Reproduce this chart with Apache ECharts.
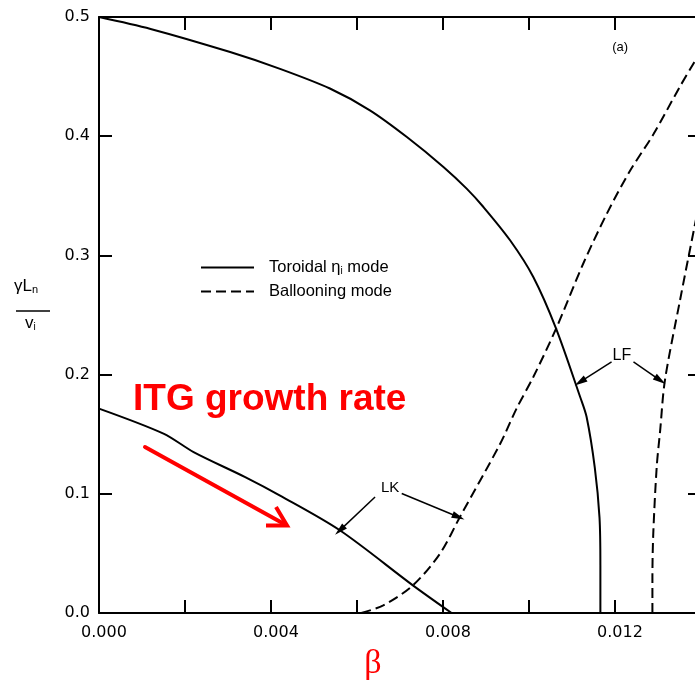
<!DOCTYPE html>
<html><head><meta charset="utf-8">
<script src="https://cdn.jsdelivr.net/npm/echarts@6/dist/echarts.min.js"></script>
<style>html,body{margin:0;padding:0;background:#fff}#c{width:695px;height:682px}</style>
</head><body><div id="c"></div>
<script>
// ---- data (beta, gamma*L_n/v_i) ----
const toroidalBeta  = [0, 0.0012, 0.00305, 0.00421, 0.00537, 0.0063, 0.00716, 0.00801, 0.00855, 0.00894, 0.00956, 0.0101, 0.01063, 0.01119, 0.01134, 0.01153, 0.01164, 0.01166, 0.01166];
const toroidalGamma = [0.5, 0.490, 0.4706, 0.4565, 0.440, 0.4217, 0.3993, 0.3742, 0.356, 0.3406, 0.3127, 0.2819, 0.2386, 0.1812, 0.1644, 0.122, 0.080, 0.040, 0.0];
const lkToroidalBeta  = [0, 0.0015, 0.0022, 0.0034, 0.0042, 0.0056, 0.0073, 0.0082];
const lkToroidalGamma = [0.1715, 0.1505, 0.135, 0.114, 0.0987, 0.0694, 0.0232, 0.0];
const ballooningBeta  = [0.0061, 0.00661, 0.0073, 0.00793, 0.0084, 0.00933, 0.00971, 0.0101, 0.01063, 0.01126, 0.01181, 0.01235, 0.0129, 0.0135, 0.01386, 0.014];
const ballooningGamma = [0.0, 0.0064, 0.0232, 0.0498, 0.081, 0.142, 0.1715, 0.198, 0.2386, 0.293, 0.335, 0.371, 0.402, 0.441, 0.463, 0.471];
const lfBallooningBeta  = [0.01287, 0.01287, 0.01289, 0.01297, 0.01305, 0.01316, 0.01351, 0.01386, 0.014];
const lfBallooningGamma = [0.0, 0.03, 0.0666, 0.1225, 0.153, 0.195, 0.262, 0.326, 0.35];
const xTickStep = 0.002;
const yTicks = [0.0, 0.1, 0.2, 0.3, 0.4, 0.5];
const legendNames = ['Toroidal mode', 'Ballooning mode'];

const zip = (a, b) => a.map((v, i) => [v, b[i]]);

const chart = echarts.init(document.getElementById('c'), null, {renderer: 'canvas'});
const black = '#000';
const axisBase = {
  axisLine: {show: true, onZero: false, lineStyle: {color: black, width: 2}},
  axisTick: {show: true, inside: true, length: 13, lineStyle: {color: black, width: 2}},
  splitLine: {show: false}
};
const tickFont = {fontFamily: 'DejaVu Sans', fontSize: 16, color: black};

const option = {
  animation: false,
  backgroundColor: '#fff',
  grid: {left: 99, width: 602, top: 17, bottom: 69, outerBoundsMode: 'none', containLabel: false},
  xAxis: [
    Object.assign({type: 'value', min: 0, max: 0.014, interval: xTickStep, position: 'bottom',
      axisLabel: Object.assign({margin: 12, padding: [0, 0, 0, 10],
        formatter: v => { const k = Math.round(v / xTickStep); return k % 2 === 0 ? (k * xTickStep).toFixed(3) : ''; }}, tickFont)}, axisBase),
    Object.assign({type: 'value', min: 0, max: 0.014, interval: xTickStep, position: 'top', axisLabel: {show: false}}, axisBase)
  ],
  yAxis: [
    Object.assign({type: 'value', min: yTicks[0], max: yTicks[yTicks.length - 1], interval: 0.1, position: 'left',
      axisLabel: Object.assign({margin: 9, formatter: v => v.toFixed(1)}, tickFont)}, axisBase),
    Object.assign({type: 'value', min: yTicks[0], max: yTicks[yTicks.length - 1], interval: 0.1, position: 'right', axisLabel: {show: false}}, axisBase)
  ],
  legend: {
    show: true, orient: 'vertical', left: 195, top: 254, itemWidth: 53, itemHeight: 14, itemGap: 7,
    data: legendNames, selectedMode: false,
    itemStyle: {opacity: 0},
    formatter: n => n === legendNames[0] ? 'Toroidal η{s|i} mode' : n,
    textStyle: {fontFamily: 'Liberation Sans', fontSize: 16.5, color: black, padding: [0, 0, 0, 10],
      rich: {s: {fontFamily: 'Liberation Sans', fontSize: 10, verticalAlign: 'bottom', lineHeight: 11}}}
  },
  series: [
    {type: 'line', name: legendNames[0], data: zip(toroidalBeta, toroidalGamma), symbol: 'none', smooth: 0.3,
      lineStyle: {color: black, width: 2, type: 'solid'}, itemStyle: {color: black}},
    {type: 'line', name: legendNames[0], data: zip(lkToroidalBeta, lkToroidalGamma), symbol: 'none', smooth: 0.3,
      lineStyle: {color: black, width: 2, type: 'solid'}, itemStyle: {color: black},
      markLine: {silent: true, symbol: ['none', 'triangle'], symbolSize: [7, 13], label: {show: false},
        lineStyle: {color: black, width: 1.5, type: 'solid'},
        data: [
          [{coord: [0.00642, 0.0973]}, {coord: [0.0056, 0.0693]}],
          [{coord: [0.00704, 0.1002]}, {coord: [0.00836, 0.0805]}],
          [{coord: [0.01192, 0.2106]}, {coord: [0.01119, 0.1938]}],
          [{coord: [0.01243, 0.2106]}, {coord: [0.01305, 0.1952]}]
        ]},
      markPoint: {silent: true, symbol: 'circle', symbolSize: 0,
        label: {show: true, position: 'inside', color: black, fontFamily: 'Liberation Sans', fontSize: 15},
        data: [
          {coord: [0.00677, 0.1046], label: {formatter: 'LK'}},
          {coord: [0.01216, 0.2162], label: {formatter: 'LF', fontSize: 16}},
          {coord: [0.01212, 0.4748], label: {formatter: '(a)', fontSize: 13}}
        ]}},
    {type: 'line', name: legendNames[1], data: zip(ballooningBeta, ballooningGamma), symbol: 'none', smooth: 0.3,
      lineStyle: {color: black, width: 2, type: [10, 5]}, itemStyle: {color: black}},
    {type: 'line', name: legendNames[1], data: zip(lfBallooningBeta, lfBallooningGamma), symbol: 'none', smooth: 0.3,
      lineStyle: {color: black, width: 2, type: [10, 5]}, itemStyle: {color: black}}
  ],
  graphic: [
    // y-axis title: gamma L_n / v_i
    {type: 'text', left: 14, top: 278, style: {text: 'γL{s|n}', fontFamily: 'Liberation Sans', fontSize: 17, fill: black,
      rich: {s: {fontSize: 11, verticalAlign: 'bottom', lineHeight: 12, fontFamily: 'Liberation Sans'}}}},
    {type: 'line', shape: {x1: 16, y1: 311, x2: 50, y2: 311}, style: {stroke: black, lineWidth: 1.5}},
    {type: 'text', left: 25, top: 315, style: {text: 'v{s|i}', fontFamily: 'Liberation Sans', fontSize: 17, fill: black,
      rich: {s: {fontSize: 10, verticalAlign: 'bottom', lineHeight: 11, fontFamily: 'Liberation Sans'}}}},
    // red annotation
    {type: 'text', x: 133, y: 400, style: {text: 'ITG growth rate', fontFamily: 'Liberation Sans', fontWeight: 'bold', fontSize: 37, fill: '#ff0000', verticalAlign: 'middle'}},
    {type: 'line', shape: {x1: 145, y1: 447, x2: 286, y2: 525}, style: {stroke: '#ff0000', lineWidth: 4, lineCap: 'round'}},
    {type: 'polyline', shape: {points: [[266, 525.5], [287, 525.5], [276, 507]]}, style: {stroke: '#ff0000', lineWidth: 4, fill: null, lineJoin: 'miter', lineCap: 'butt'}},
    {type: 'text', x: 373, y: 664, style: {text: 'β', fontFamily: 'Liberation Serif', fontSize: 34, fill: '#ff0000', align: 'center', verticalAlign: 'middle'}}
  ]
};
chart.setOption(option);
</script>
</body></html>
